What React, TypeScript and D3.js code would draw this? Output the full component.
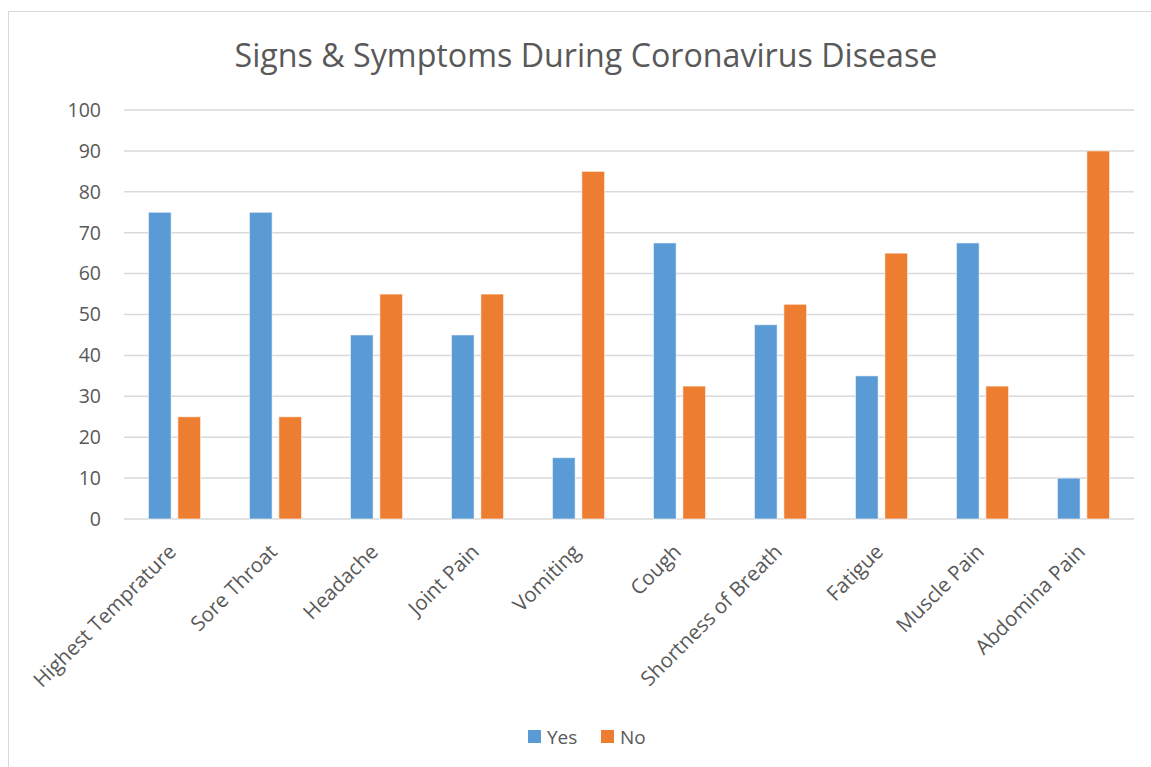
import React, { useEffect, useRef } from 'react';
import * as d3 from 'd3';

const categories = [
  'Highest Temprature',
  'Sore Throat',
  'Headache',
  'Joint Pain',
  'Vomiting',
  'Cough',
  'Shortness of Breath',
  'Fatigue',
  'Muscle Pain',
  'Abdomina Pain',
];
const yesValues = [75, 75, 45, 45, 15, 67.5, 47.5, 35, 67.5, 10];
const noValues = [25, 25, 55, 55, 85, 32.5, 52.5, 65, 32.5, 90];
const seriesNames = ['Yes', 'No'];
const seriesColors = ['#5B9BD5', '#ED7D31'];
const yTicks = [0, 10, 20, 30, 40, 50, 60, 70, 80, 90, 100];

const FONT = '"Open Sans", Lato, sans-serif';

const App = () => {
  const svgRef = useRef(null);

  useEffect(() => {
    document.body.style.margin = '0';
    const W = 1151;
    const H = 767;
    const plot = { left: 124, right: 1134, top: 110, bottom: 519 };

    const svg = d3.select(svgRef.current);
    svg.selectAll('*').remove();
    svg.attr('width', W).attr('height', H).style('display', 'block');

    // chart background + border
    svg.append('rect')
      .attr('x', 8.5).attr('y', 11.5)
      .attr('width', W - 8).attr('height', H)
      .attr('fill', '#fff')
      .attr('stroke', '#d9d9d9');

    // title
    svg.append('text')
      .attr('x', 586)
      .attr('y', 67)
      .attr('text-anchor', 'middle')
      .attr('font-family', FONT)
      .attr('font-size', '32.2px')
      .attr('fill', '#595959')
      .text('Signs & Symptoms During Coronavirus Disease');

    const x0 = d3.scaleBand()
      .domain(categories)
      .range([plot.left, plot.right])
      .padding(0);

    const x1 = d3.scaleBand()
      .domain(seriesNames)
      .range([0, x0.bandwidth()])
      .paddingInner(0.228)
      .paddingOuter(0.83);

    const y = d3.scaleLinear()
      .domain([0, 100])
      .range([plot.bottom, plot.top]);

    // gridlines
    svg.append('g')
      .selectAll('line')
      .data(yTicks)
      .enter()
      .append('line')
      .attr('x1', plot.left)
      .attr('x2', plot.right)
      .attr('y1', d => y(d))
      .attr('y2', d => y(d))
      .attr('stroke', '#d9d9d9')
      .attr('stroke-width', 1.5);

    // y tick labels
    svg.append('g')
      .selectAll('text')
      .data(yTicks)
      .enter()
      .append('text')
      .attr('x', 101)
      .attr('y', d => y(d))
      .attr('dy', '0.35em')
      .attr('text-anchor', 'end')
      .attr('font-family', FONT)
      .attr('font-size', '19.5px')
      .attr('fill', '#595959')
      .text(d => d);

    // bars
    const rows = categories.map((c, i) => ({ cat: c, values: [yesValues[i], noValues[i]] }));
    const groups = svg.append('g')
      .selectAll('g')
      .data(rows)
      .enter()
      .append('g')
      .attr('transform', d => `translate(${x0(d.cat)},0)`);

    groups.selectAll('rect')
      .data(d => d.values.map((v, j) => ({ key: seriesNames[j], value: v, color: seriesColors[j] })))
      .enter()
      .append('rect')
      .attr('x', d => x1(d.key))
      .attr('width', x1.bandwidth())
      .attr('y', d => y(d.value))
      .attr('height', d => y(0) - y(d.value))
      .attr('fill', d => d.color)
      .attr('stroke', '#fff')
      .attr('stroke-opacity', 0.6)
      .attr('stroke-width', 1);

    // x labels rotated
    svg.append('g')
      .selectAll('text')
      .data(categories)
      .enter()
      .append('text')
      .attr('transform', d => `translate(${x0(d) + x0.bandwidth() / 2 + 3},${plot.bottom + 34}) rotate(-45)`)
      .attr('text-anchor', 'end')
      .attr('font-family', FONT)
      .attr('font-size', '20.5px')
      .attr('fill', '#595959')
      .text(d => d);

    // legend
    const legend = svg.append('g');
    const legendItems = [
      { name: 'Yes', color: seriesColors[0], x: 528 },
      { name: 'No', color: seriesColors[1], x: 601 },
    ];
    legendItems.forEach(item => {
      legend.append('rect')
        .attr('x', item.x)
        .attr('y', 730)
        .attr('width', 13)
        .attr('height', 13)
        .attr('fill', item.color);
      legend.append('text')
        .attr('x', item.x + 19)
        .attr('y', 737)
        .attr('dy', '0.35em')
        .attr('font-family', FONT)
        .attr('font-size', '19px')
        .attr('fill', '#595959')
        .text(item.name);
    });
  }, []);

  return <svg ref={svgRef}></svg>;
};

export default App;
